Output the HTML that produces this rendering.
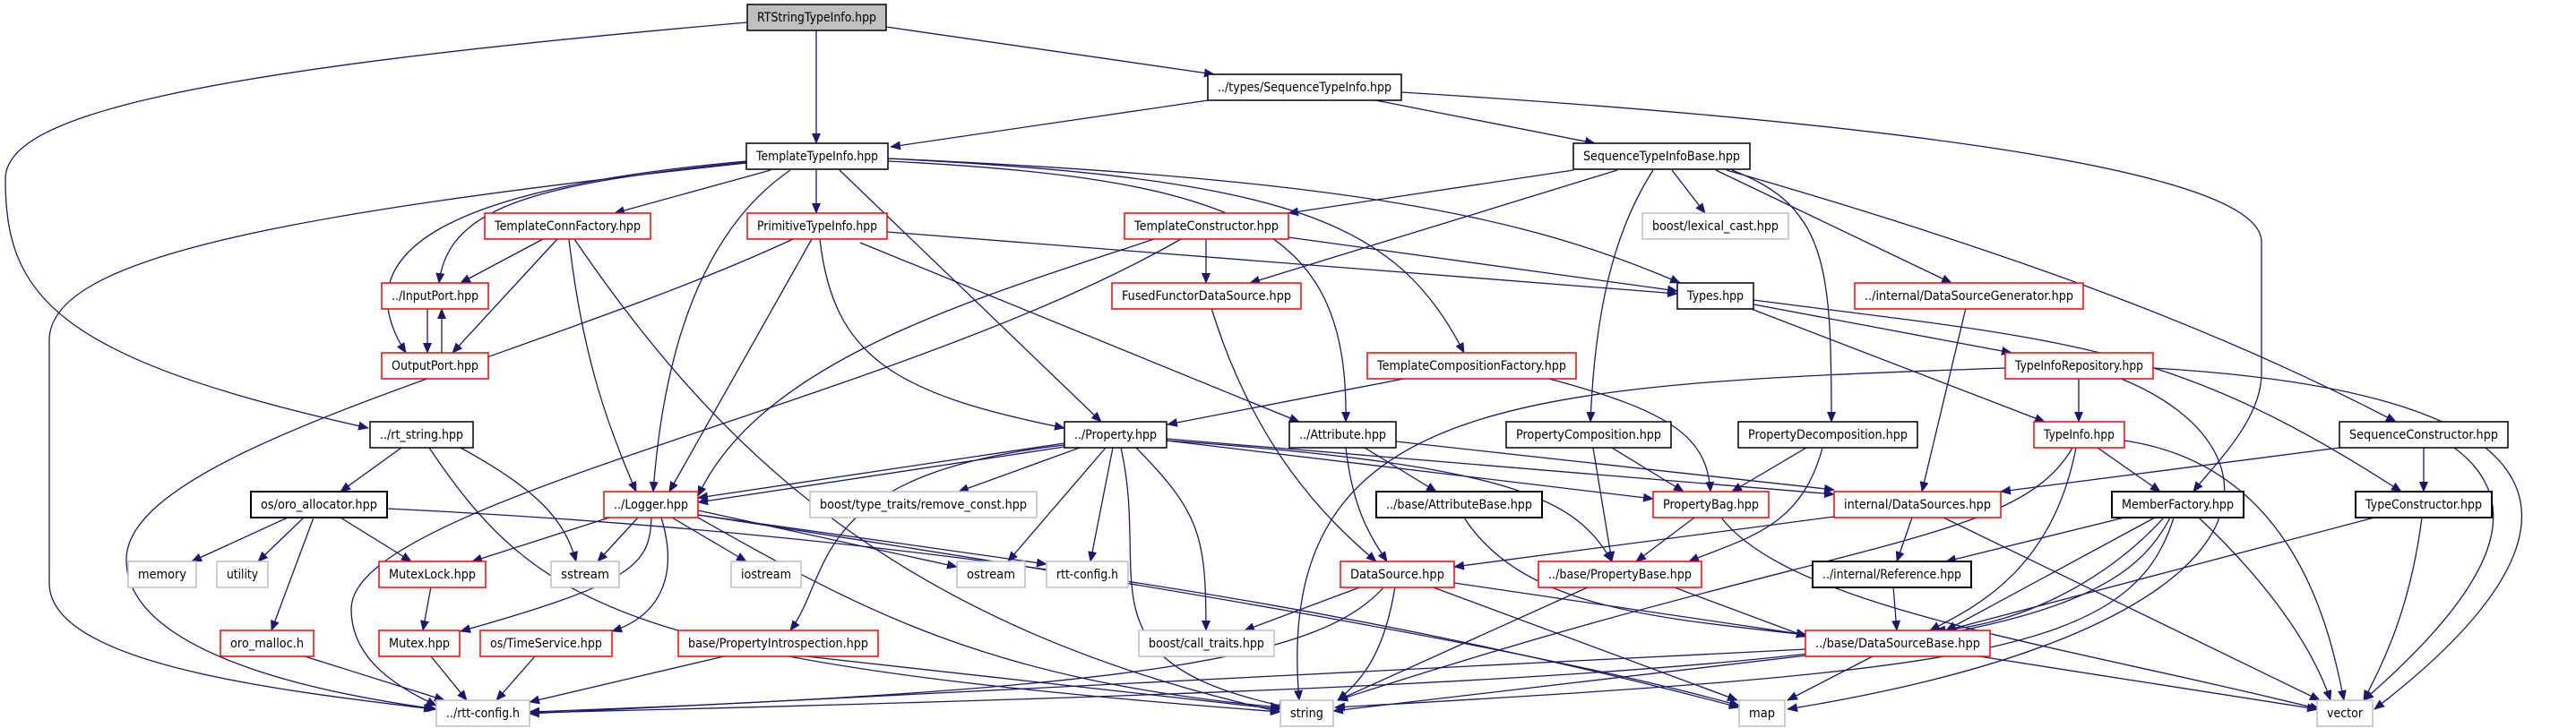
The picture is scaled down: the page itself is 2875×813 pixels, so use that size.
<!DOCTYPE html>
<html><head><meta charset="utf-8">
<style>
html,body{margin:0;padding:0;background:#fff;}
svg{display:block;}
text{font-family:"DejaVu Sans","Liberation Sans",sans-serif;font-size:14px;fill:#000;}
.e{fill:none;stroke:#191970;stroke-width:1.3;marker-end:url(#a);}
.b{fill:#fff;stroke:#000;stroke-width:1.5;}
.r{fill:#fff;stroke:#ff0000;stroke-width:1.5;}
.g{fill:#fff;stroke:#bfbfbf;stroke-width:1.5;}
.k{fill:#bfbfbf;stroke:#000;stroke-width:1.5;}
</style></head><body>
<svg width="2875" height="813" viewBox="0 0 2875 813" xmlns="http://www.w3.org/2000/svg">
<defs><marker id="a" markerWidth="12" markerHeight="10" refX="11" refY="5" orient="auto" markerUnits="userSpaceOnUse"><path d="M0,0L12,5L0,10z" fill="#191970"/></marker></defs>
<g>
<path class="e" d="M911,34 L911,160"/>
<path class="e" d="M989,30 L1355,83"/>
<path class="e" d="M834,25 C200,80 6,130 6,200 C6,330 60,400 411,478"/>
<path class="e" d="M1355,111 L994,164"/>
<path class="e" d="M1530,111 L1780,160"/>
<path class="e" d="M1564,103 C2000,130 2524,180 2524,270 L2524,417 C2524,470 2470,520 2448,549"/>
<path class="e" d="M860,190 L686,238"/>
<path class="e" d="M911,190 L911,238"/>
<path class="e" d="M833,181 C600,205 500,230 490,316"/>
<path class="e" d="M833,180 C500,210 380,280 453,394"/>
<path class="e" d="M833,182 C300,240 55,290 55,380 L55,651 C55,740 300,770 484,792"/>
<path class="e" d="M882,190 C780,260 740,400 729,549"/>
<path class="e" d="M937,190 L1229,471"/>
<path class="e" d="M991,180 C1400,200 1505,260 1502,471"/>
<path class="e" d="M991,177 C1450,200 1560,250 1634,394"/>
<path class="e" d="M991,177 C1500,200 1700,240 1875,316"/>
<path class="e" d="M1756,190 L1438,238"/>
<path class="e" d="M1805,190 L1395,316"/>
<path class="e" d="M1866,190 L1903,238"/>
<path class="e" d="M1845,190 C1800,260 1780,350 1775,471"/>
<path class="e" d="M1933,190 C2040,230 2044,300 2044,471"/>
<path class="e" d="M1915,190 L2178,316"/>
<path class="e" d="M1927,190 C2282,292 2500,380 2674,471"/>
<path class="e" d="M606,267 L514,316"/>
<path class="e" d="M622,267 L505,394"/>
<path class="e" d="M635,267 C650,400 680,480 710,549"/>
<path class="e" d="M641,267 C800,500 1000,700 1429,795"/>
<path class="e" d="M477,345 L477,394"/>
<path class="e" d="M493,394 L493,345"/>
<path class="e" d="M885,267 C600,400 141,500 141,625 C141,740 400,780 487,792"/>
<path class="e" d="M906,267 L747,549"/>
<path class="e" d="M915,267 C930,400 1000,440 1188,478"/>
<path class="e" d="M960,271 L1450,471"/>
<path class="e" d="M990,259 L1872,328"/>
<path class="e" d="M1346,267 L1346,316"/>
<path class="e" d="M1438,265 L1872,325"/>
<path class="e" d="M1288,267 C1100,330 850,400 779,554"/>
<path class="e" d="M1318,267 C1000,450 392,560 392,680 C392,740 450,770 487,788"/>
<path class="e" d="M1352,344 C1400,500 1480,580 1536,627"/>
<path class="e" d="M1952,339 L2245,394"/>
<path class="e" d="M1952,344 L2282,471"/>
<path class="e" d="M1957,335 C2300,380 2420,380 2680,549"/>
<path class="e" d="M2194,344 L2145,549"/>
<path class="e" d="M1572,422 L1303,474"/>
<path class="e" d="M1725,422 C1870,460 1905,490 1909,549"/>
<path class="e" d="M2320,422 L2320,471"/>
<path class="e" d="M2238,411 C1700,430 1420,440 1450,782"/>
<path class="e" d="M2365,422 C2560,500 2560,700 1995,792"/>
<path class="e" d="M2403,411 C2900,440 2900,600 2650,792"/>
<path class="e" d="M1188,495 L779,556"/>
<path class="e" d="M1188,499 L779,561"/>
<path class="e" d="M1205,500 L1070,549"/>
<path class="e" d="M1234,500 L1125,627"/>
<path class="e" d="M1242,500 L1217,627"/>
<path class="e" d="M1268,500 C1340,573 1346,600 1346,704"/>
<path class="e" d="M1251,500 C1285,650 1200,740 1438,790"/>
<path class="e" d="M1302,492 L1845,557"/>
<path class="e" d="M1302,492 C1700,520 1760,560 1799,627"/>
<path class="e" d="M1302,490 L2047,552"/>
<path class="e" d="M1188,497 C900,530 930,640 882,704"/>
<path class="e" d="M1523,500 L1603,549"/>
<path class="e" d="M1502,500 C1510,570 1530,600 1548,627"/>
<path class="e" d="M1558,493 L2047,547"/>
<path class="e" d="M1799,500 L1879,549"/>
<path class="e" d="M1778,500 L1799,627"/>
<path class="e" d="M2016,500 L1933,549"/>
<path class="e" d="M2034,500 C2010,590 1950,600 1885,627"/>
<path class="e" d="M2341,500 L2411,549"/>
<path class="e" d="M2317,500 C2290,640 2200,680 2154,704"/>
<path class="e" d="M2313,500 C2250,610 2050,600 1493,782"/>
<path class="e" d="M2371,492 C2560,520 2600,700 2616,782"/>
<path class="e" d="M2611,500 L2233,549"/>
<path class="e" d="M2705,500 L2705,549"/>
<path class="e" d="M2739,500 C2820,560 2790,650 2638,782"/>
<path class="e" d="M1634,578 C1700,680 1850,690 2016,709"/>
<path class="e" d="M1891,578 L1826,627"/>
<path class="e" d="M1921,578 C2000,680 2300,720 2589,792"/>
<path class="e" d="M2047,577 L1623,633"/>
<path class="e" d="M2134,578 L2117,627"/>
<path class="e" d="M2169,578 L2589,782"/>
<path class="e" d="M2371,578 L2172,627"/>
<path class="e" d="M2405,578 L2172,704"/>
<path class="e" d="M2415,578 C2350,650 2250,700 2160,704"/>
<path class="e" d="M2426,578 C2380,730 2200,750 1490,790"/>
<path class="e" d="M2422,578 C2350,720 2100,760 591,796"/>
<path class="e" d="M2454,578 C2530,650 2580,720 2601,782"/>
<path class="e" d="M2650,578 L2172,704"/>
<path class="e" d="M2703,578 C2690,680 2660,740 2638,782"/>
<path class="e" d="M2113,655 L2117,704"/>
<path class="e" d="M1520,655 L1389,704"/>
<path class="e" d="M1557,655 C1545,730 1520,760 1493,782"/>
<path class="e" d="M1545,655 C1480,730 1300,770 591,795"/>
<path class="e" d="M1597,655 L1939,782"/>
<path class="e" d="M1623,651 L2016,709"/>
<path class="e" d="M1774,655 L1493,782"/>
<path class="e" d="M1866,655 L2016,711"/>
<path class="e" d="M2016,725 L591,797"/>
<path class="e" d="M2016,732 L1488,794"/>
<path class="e" d="M2090,733 L1995,782"/>
<path class="e" d="M2209,733 L2586,792"/>
<path class="e" d="M448,500 L380,549"/>
<path class="e" d="M514,500 C600,547 630,580 643,627"/>
<path class="e" d="M479,500 C600,680 700,740 1429,795"/>
<path class="e" d="M321,578 L214,627"/>
<path class="e" d="M339,578 L288,627"/>
<path class="e" d="M350,578 L303,704"/>
<path class="e" d="M380,578 L459,627"/>
<path class="e" d="M432,568 C1100,600 1600,700 1941,790"/>
<path class="e" d="M680,578 L527,627"/>
<path class="e" d="M712,578 L667,627"/>
<path class="e" d="M750,578 L833,627"/>
<path class="e" d="M727,578 C725,630 710,650 514,705"/>
<path class="e" d="M738,578 C760,650 730,690 683,705"/>
<path class="e" d="M779,570 L1068,633"/>
<path class="e" d="M779,575 L1168,630"/>
<path class="e" d="M779,578 C960,680 1100,760 1429,790"/>
<path class="e" d="M779,575 C1200,640 1700,720 1941,788"/>
<path class="e" d="M481,655 L472,704"/>
<path class="e" d="M340,733 L496,782"/>
<path class="e" d="M481,733 L521,782"/>
<path class="e" d="M597,733 L554,782"/>
<path class="e" d="M808,733 L591,784"/>
<path class="e" d="M900,733 L1429,792"/>
</g>
<g>
<rect class="k" x="834" y="5" width="155" height="29"/><text x="845" y="24" textLength="133" lengthAdjust="spacingAndGlyphs">RTStringTypeInfo.hpp</text>
<rect class="b" x="1348" y="83" width="216" height="29"/><text x="1359" y="102" textLength="194" lengthAdjust="spacingAndGlyphs">../types/SequenceTypeInfo.hpp</text>
<rect class="b" x="833" y="160" width="158" height="29"/><text x="844" y="179" textLength="136" lengthAdjust="spacingAndGlyphs">TemplateTypeInfo.hpp</text>
<rect class="b" x="1756" y="160" width="197" height="29"/><text x="1767" y="179" textLength="175" lengthAdjust="spacingAndGlyphs">SequenceTypeInfoBase.hpp</text>
<rect class="r" x="541" y="238" width="185" height="29"/><text x="552" y="257" textLength="163" lengthAdjust="spacingAndGlyphs">TemplateConnFactory.hpp</text>
<rect class="r" x="834" y="238" width="156" height="29"/><text x="845" y="257" textLength="134" lengthAdjust="spacingAndGlyphs">PrimitiveTypeInfo.hpp</text>
<rect class="r" x="1255" y="238" width="183" height="29"/><text x="1266" y="257" textLength="161" lengthAdjust="spacingAndGlyphs">TemplateConstructor.hpp</text>
<rect class="g" x="1833" y="238" width="163" height="29"/><text x="1844" y="257" textLength="141" lengthAdjust="spacingAndGlyphs">boost/lexical_cast.hpp</text>
<rect class="r" x="426" y="316" width="119" height="29"/><text x="437" y="335" textLength="97" lengthAdjust="spacingAndGlyphs">../InputPort.hpp</text>
<rect class="r" x="1241" y="316" width="211" height="29"/><text x="1252" y="335" textLength="189" lengthAdjust="spacingAndGlyphs">FusedFunctorDataSource.hpp</text>
<rect class="b" x="1872" y="316" width="85" height="29"/><text x="1883" y="335" textLength="63" lengthAdjust="spacingAndGlyphs">Types.hpp</text>
<rect class="r" x="2070" y="316" width="255" height="29"/><text x="2081" y="335" textLength="233" lengthAdjust="spacingAndGlyphs">../internal/DataSourceGenerator.hpp</text>
<rect class="r" x="426" y="394" width="119" height="29"/><text x="437" y="413" textLength="97" lengthAdjust="spacingAndGlyphs">OutputPort.hpp</text>
<rect class="r" x="1526" y="394" width="233" height="29"/><text x="1537" y="413" textLength="211" lengthAdjust="spacingAndGlyphs">TemplateCompositionFactory.hpp</text>
<rect class="r" x="2238" y="394" width="165" height="29"/><text x="2249" y="413" textLength="143" lengthAdjust="spacingAndGlyphs">TypeInfoRepository.hpp</text>
<rect class="b" x="413" y="471" width="115" height="29"/><text x="424" y="490" textLength="93" lengthAdjust="spacingAndGlyphs">../rt_string.hpp</text>
<rect class="b" x="1188" y="471" width="114" height="29"/><text x="1199" y="490" textLength="92" lengthAdjust="spacingAndGlyphs">../Property.hpp</text>
<rect class="b" x="1439" y="471" width="119" height="29"/><text x="1450" y="490" textLength="97" lengthAdjust="spacingAndGlyphs">../Attribute.hpp</text>
<rect class="b" x="1681" y="471" width="184" height="29"/><text x="1692" y="490" textLength="162" lengthAdjust="spacingAndGlyphs">PropertyComposition.hpp</text>
<rect class="b" x="1940" y="471" width="200" height="29"/><text x="1951" y="490" textLength="178" lengthAdjust="spacingAndGlyphs">PropertyDecomposition.hpp</text>
<rect class="r" x="2270" y="471" width="101" height="29"/><text x="2281" y="490" textLength="79" lengthAdjust="spacingAndGlyphs">TypeInfo.hpp</text>
<rect class="b" x="2611" y="471" width="188" height="29"/><text x="2622" y="490" textLength="166" lengthAdjust="spacingAndGlyphs">SequenceConstructor.hpp</text>
<rect class="b" x="280" y="549" width="152" height="29" style="stroke-width:2"/><text x="291" y="568" textLength="130" lengthAdjust="spacingAndGlyphs">os/oro_allocator.hpp</text>
<rect class="r" x="674" y="549" width="105" height="29"/><text x="685" y="568" textLength="83" lengthAdjust="spacingAndGlyphs">../Logger.hpp</text>
<rect class="g" x="904" y="549" width="253" height="29"/><text x="915" y="568" textLength="231" lengthAdjust="spacingAndGlyphs">boost/type_traits/remove_const.hpp</text>
<rect class="b" x="1536" y="549" width="185" height="29" style="stroke-width:2"/><text x="1547" y="568" textLength="163" lengthAdjust="spacingAndGlyphs">../base/AttributeBase.hpp</text>
<rect class="r" x="1845" y="549" width="129" height="29"/><text x="1856" y="568" textLength="107" lengthAdjust="spacingAndGlyphs">PropertyBag.hpp</text>
<rect class="r" x="2047" y="549" width="186" height="29"/><text x="2058" y="568" textLength="164" lengthAdjust="spacingAndGlyphs">internal/DataSources.hpp</text>
<rect class="b" x="2357" y="549" width="147" height="29" style="stroke-width:2"/><text x="2368" y="568" textLength="125" lengthAdjust="spacingAndGlyphs">MemberFactory.hpp</text>
<rect class="b" x="2629" y="549" width="152" height="29" style="stroke-width:2"/><text x="2640" y="568" textLength="130" lengthAdjust="spacingAndGlyphs">TypeConstructor.hpp</text>
<rect class="g" x="143" y="627" width="76" height="29"/><text x="154" y="646" textLength="54" lengthAdjust="spacingAndGlyphs">memory</text>
<rect class="g" x="242" y="627" width="57" height="29"/><text x="253" y="646" textLength="35" lengthAdjust="spacingAndGlyphs">utility</text>
<rect class="r" x="423" y="627" width="119" height="29"/><text x="434" y="646" textLength="97" lengthAdjust="spacingAndGlyphs">MutexLock.hpp</text>
<rect class="g" x="615" y="627" width="76" height="29"/><text x="626" y="646" textLength="54" lengthAdjust="spacingAndGlyphs">sstream</text>
<rect class="g" x="816" y="627" width="78" height="29"/><text x="827" y="646" textLength="56" lengthAdjust="spacingAndGlyphs">iostream</text>
<rect class="g" x="1068" y="627" width="76" height="29"/><text x="1079" y="646" textLength="54" lengthAdjust="spacingAndGlyphs">ostream</text>
<rect class="g" x="1168" y="627" width="91" height="29"/><text x="1179" y="646" textLength="69" lengthAdjust="spacingAndGlyphs">rtt-config.h</text>
<rect class="r" x="1496" y="627" width="127" height="29"/><text x="1507" y="646" textLength="105" lengthAdjust="spacingAndGlyphs">DataSource.hpp</text>
<rect class="r" x="1717" y="627" width="182" height="29"/><text x="1728" y="646" textLength="160" lengthAdjust="spacingAndGlyphs">../base/PropertyBase.hpp</text>
<rect class="b" x="2023" y="627" width="177" height="29" style="stroke-width:2"/><text x="2034" y="646" textLength="155" lengthAdjust="spacingAndGlyphs">../internal/Reference.hpp</text>
<rect class="r" x="246" y="704" width="104" height="29"/><text x="257" y="723" textLength="82" lengthAdjust="spacingAndGlyphs">oro_malloc.h</text>
<rect class="r" x="423" y="704" width="90" height="29"/><text x="434" y="723" textLength="68" lengthAdjust="spacingAndGlyphs">Mutex.hpp</text>
<rect class="r" x="536" y="704" width="147" height="29"/><text x="547" y="723" textLength="125" lengthAdjust="spacingAndGlyphs">os/TimeService.hpp</text>
<rect class="r" x="757" y="704" width="223" height="29"/><text x="768" y="723" textLength="201" lengthAdjust="spacingAndGlyphs">base/PropertyIntrospection.hpp</text>
<rect class="g" x="1271" y="704" width="151" height="29"/><text x="1282" y="723" textLength="129" lengthAdjust="spacingAndGlyphs">boost/call_traits.hpp</text>
<rect class="r" x="2015" y="704" width="206" height="29"/><text x="2026" y="723" textLength="184" lengthAdjust="spacingAndGlyphs">../base/DataSourceBase.hpp</text>
<rect class="g" x="487" y="782" width="104" height="29"/><text x="498" y="801" textLength="82" lengthAdjust="spacingAndGlyphs">../rtt-config.h</text>
<rect class="g" x="1429" y="782" width="59" height="29"/><text x="1440" y="801" textLength="37" lengthAdjust="spacingAndGlyphs">string</text>
<rect class="g" x="1941" y="782" width="51" height="29"/><text x="1952" y="801" textLength="29" lengthAdjust="spacingAndGlyphs">map</text>
<rect class="g" x="2586" y="782" width="62" height="29"/><text x="2597" y="801" textLength="40" lengthAdjust="spacingAndGlyphs">vector</text>
</g>
</svg>
</body></html>
